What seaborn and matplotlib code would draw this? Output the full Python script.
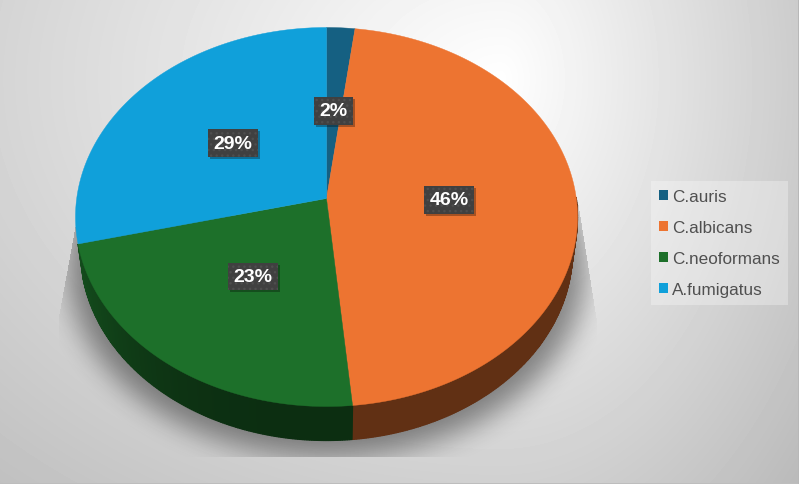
import numpy as np
import matplotlib
matplotlib.use("Agg")
import matplotlib.pyplot as plt
from matplotlib.patches import Polygon, Patch, Rectangle
from matplotlib.path import Path
import seaborn as sns

# data
species = ["C.auris", "C.albicans", "C.neoformans", "A.fumigatus"]
percent = [2.0, 46.5, 22.7, 28.8]
colors = ["#156082", "#ED7431", "#1D702A", "#10A0DA"]

sns.set_theme(style="white")
plt.rcParams["font.family"] = ["Liberation Sans", "DejaVu Sans"]

W, H = 799, 485
CX, CY = 326.5, 199.5
K, A, B = 0.0976, 187.7, 249.8
DEPTH = 34


def project(x, y, drop=0.0, grow=0.0):
    # tilt the flat pie: near edge is larger than the far edge
    d = 1 + K * y
    shrink = 1 - 0.02 * drop / DEPTH + grow
    return CX + B * x / d * shrink, CY - A * y / d + drop


def blur(img, size):
    kernel = np.hanning(size)
    kernel /= kernel.sum()
    img = np.apply_along_axis(lambda r: np.convolve(r, kernel, mode="same"), 0, img)
    return np.apply_along_axis(lambda r: np.convolve(r, kernel, mode="same"), 1, img)


fig = plt.figure(figsize=(W / 100, H / 100), dpi=100)
ax = fig.add_axes([0, 0, 1, 1])

# backdrop
yy, xx = np.mgrid[0:H, 0:W]
dx = np.where(xx > 500, (xx - 500) / 1500, (xx - 500) / 3030)
back = 1.0 - np.hypot(dx, (yy - 80) / 2200)
back[[0, -1], :] = 0.74
back[:, -1] = 0.72
ax.imshow(back, cmap="gray", vmin=0, vmax=1, extent=(0, W, H, 0), zorder=0,
          interpolation="nearest")

# soft shadow under the disc, cut off by the plot frame
t = np.radians(np.linspace(0, 360, 400))
px, py = project(np.cos(t), np.sin(t), DEPTH + 16, 0.06)
pts = np.column_stack([xx.ravel(), yy.ravel()])
mask = Path(np.column_stack([px, py])).contains_points(pts).reshape(H, W).astype(float)
soft = blur(np.pad(mask, 60), 71)[60:-60, 60:-60]
frame = Path([(76, 222), (58, 320), (58, 457), (597, 457), (597, 325), (578, 205)])
soft *= frame.contains_points(pts).reshape(H, W)
rgba = np.zeros((H, W, 4))
rgba[..., 3] = soft * 0.42
ax.imshow(rgba, extent=(0, W, H, 0), zorder=1)

wedges, _, autotexts = ax.pie(percent, colors=colors, startangle=90, counterclock=False,
                              autopct="%.0f%%", pctdistance=0.49, radius=1, frame=True,
                              textprops=dict(color="white", fontsize=14, fontweight="bold"))
ax.set_xlim(0, W)
ax.set_ylim(H, 0)
ax.set_aspect("auto")
ax.axis("off")

# side wall first, then tilted top faces
for w, c in zip(wedges, colors):
    base = np.array(matplotlib.colors.to_rgb(c))
    if np.sin(np.radians((w.theta1 + w.theta2) / 2)) > 0.3:
        continue
    t = np.radians(np.linspace(w.theta1, w.theta2, int(abs(w.theta2 - w.theta1)) * 2 + 2))
    for a, b in zip(t[:-1], t[1:]):
        if np.sin(a) > 0 and np.sin(b) > 0:
            continue
        x0, y0 = project(np.cos(a), np.sin(a))
        x1, y1 = project(np.cos(b), np.sin(b))
        x2, y2 = project(np.cos(b), np.sin(b), DEPTH)
        x3, y3 = project(np.cos(a), np.sin(a), DEPTH)
        # wall is lighter towards the left end
        f = 0.41 + 0.3 * max(0, -np.cos(a)) ** 3
        ax.add_patch(Polygon([(x0, y0), (x1, y1), (x2, y2), (x3, y3)], closed=True,
                             fc=base * f, ec=base * f, lw=0.9, zorder=3))

for w, c in zip(wedges, colors):
    t = np.radians(np.linspace(w.theta1, w.theta2, 200))
    px, py = project(np.r_[0, np.cos(t)], np.r_[0, np.sin(t)])
    ax.add_patch(Polygon(np.column_stack([px, py]), closed=True, fc=c, ec=c, lw=0.3, zorder=4))
    w.set_visible(False)

for txt in autotexts:
    txt.set_position(project(*txt.get_position()))
    txt.set_zorder(7)
    txt.set_bbox(dict(boxstyle="square,pad=0.28", fc="#404040", ec="#4e4e4e", lw=0, hatch="..."))

# flat shadow behind each hatched label box
fig.canvas.draw()
for txt in autotexts:
    box = txt.get_bbox_patch().get_window_extent().transformed(ax.transData.inverted())
    ax.add_patch(Rectangle((box.x0 + 2, min(box.y0, box.y1) + 2), box.width, abs(box.height),
                           fc="black", ec="none", alpha=0.3, zorder=6))

handles = [Patch(fc=c, ec="none", label=s) for s, c in zip(species, colors)]
leg = ax.legend(handles=handles, loc="upper left", bbox_to_anchor=(651 / W, 1 - 182 / H),
                borderaxespad=0, frameon=True, fontsize=12.3, labelcolor="#505050",
                handlelength=0.53, handleheight=0.53, handletextpad=0.24, labelspacing=0.94,
                borderpad=0.47)
leg.get_frame().set(facecolor="white", edgecolor="none", alpha=0.3, boxstyle="square,pad=0")
leg.set_zorder(5)

fig.savefig("out.png", dpi=100)
